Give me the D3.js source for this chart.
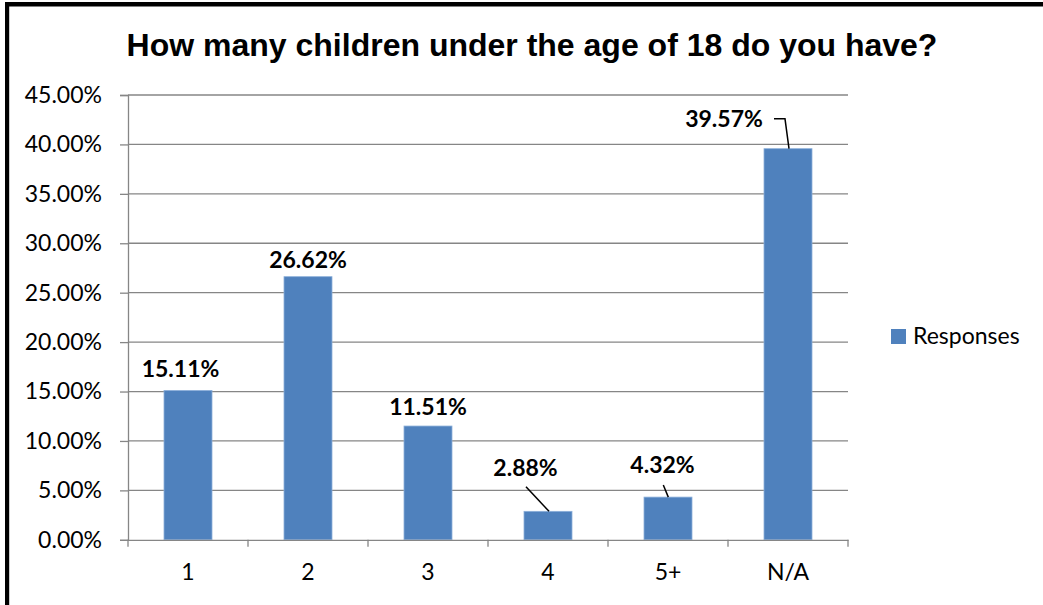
<!DOCTYPE html>
<html>
<head>
<meta charset="utf-8">
<script src="https://cdn.jsdelivr.net/npm/d3@7"></script>
<style>
  html, body { margin: 0; padding: 0; background: #fff; }
  svg { display: block; }
</style>
</head>
<body>
<svg id="chart" width="1043" height="605"></svg>
<script>
// ---- data ----
const categories = ["1", "2", "3", "4", "5+", "N/A"];
const responses = [0.1511, 0.2662, 0.1151, 0.0288, 0.0432, 0.3957];
const yTicks = [0, 0.05, 0.10, 0.15, 0.20, 0.25, 0.30, 0.35, 0.40, 0.45];
const seriesName = "Responses";
const title = "How many children under the age of 18 do you have?";

// ---- label placement (layout, relative to bar top / centre) ----
const labelDx = [-7.5, 0, 0, -22.5, -5.5, -64];
const labelDy = [-13.7, -8.3, -11, -35.6, -24.4, -21.8];

const W = 1043, H = 605;
const margin = { left: 128, right: 1043 - 848, top: 95, bottom: 605 - 539.8 };
const svg = d3.select("#chart");

const labelFont = "Lato, 'Open Sans', 'Liberation Sans', sans-serif";
const barColor = "#4F81BD";
const gridColor = "#868686";

// border (top & left visible)
svg.append("rect").attr("x", 0).attr("y", 0).attr("width", W).attr("height", H).attr("fill", "#fff");
svg.append("rect").attr("x", 5).attr("y", 2).attr("width", W).attr("height", 4.5).attr("fill", "#000");
svg.append("rect").attr("x", 5).attr("y", 2).attr("width", 4.2).attr("height", H).attr("fill", "#000");

// title
svg.append("text")
  .attr("x", 532).attr("y", 56)
  .attr("text-anchor", "middle")
  .style("font-family", "'Liberation Sans', Arial, sans-serif")
  .style("font-weight", "bold")
  .style("font-size", "32px")
  .text(title);

const x = d3.scaleBand().domain(categories).range([margin.left, W - margin.right]).padding(0);
const y = d3.scaleLinear().domain([0, 0.45]).range([H - margin.bottom, margin.top]);

// gridlines
svg.append("g").selectAll("line").data(yTicks.filter(d => d > 0)).join("line")
  .attr("x1", margin.left).attr("x2", W - margin.right)
  .attr("y1", d => y(d)).attr("y2", d => y(d))
  .attr("stroke", gridColor).attr("stroke-width", 1.3);

// y axis
const yAxis = d3.axisLeft(y).tickValues(yTicks).tickSize(8).tickPadding(18)
  .tickFormat(d => (d * 100).toFixed(2) + "%");
const gy = svg.append("g").attr("transform", `translate(${margin.left},0)`).call(yAxis);
gy.select(".domain").attr("stroke", gridColor).attr("stroke-width", 1.3);
gy.selectAll(".tick line").attr("stroke", gridColor).attr("stroke-width", 1.3);
gy.selectAll(".tick text")
  .style("font-family", labelFont).style("font-size", "23px").attr("fill", "#000");

// bars
const barW = x.bandwidth() * 0.4;
svg.append("g").selectAll("rect").data(responses).join("rect")
  .attr("x", (d, i) => x(categories[i]) + x.bandwidth() / 2 - barW / 2)
  .attr("width", barW)
  .attr("y", d => y(d))
  .attr("height", d => y(0) - y(d))
  .attr("fill", barColor)
  .attr("stroke", "#8DB0DA").attr("stroke-width", 0.8);

// x axis
const xAxis = d3.axisBottom(x).tickSize(0).tickPadding(24);
const gx = svg.append("g").attr("transform", `translate(0,${y(0)})`).call(xAxis);
gx.select(".domain").attr("stroke", gridColor).attr("stroke-width", 1.3);
gx.selectAll(".tick text")
  .style("font-family", labelFont).style("font-size", "23px").attr("fill", "#000");
// category boundary tick marks
const bounds = categories.map(c => x(c)).concat([x(categories[categories.length - 1]) + x.bandwidth()]);
gx.append("g").selectAll("line").data(bounds).join("line")
  .attr("x1", d => d).attr("x2", d => d).attr("y1", 0).attr("y2", 7)
  .attr("stroke", gridColor).attr("stroke-width", 1.3);

// data labels
const cx = i => x(categories[i]) + x.bandwidth() / 2;
const labels = svg.append("g");
labels.selectAll("text").data(responses).join("text")
  .attr("x", (d, i) => cx(i) + labelDx[i])
  .attr("y", (d, i) => y(d) + labelDy[i])
  .attr("text-anchor", "middle")
  .style("font-family", labelFont).style("font-weight", "bold").style("font-size", "23px")
  .text(d => (d * 100).toFixed(2) + "%");

// leader lines for moved labels
const leader = (pts) => svg.append("path").attr("d", d3.line()(pts))
  .attr("fill", "none").attr("stroke", "#000").attr("stroke-width", 1.5);
{
  const i = 3, d = responses[i];
  leader([[cx(i) + labelDx[i] + 0.5, y(d) + labelDy[i] + 11], [cx(i) + 1, y(d)]]);
}
{
  const i = 4, d = responses[i];
  leader([[cx(i) + labelDx[i] + 0.8, y(d) + labelDy[i] + 12.3], [cx(i) + 0.3, y(d)]]);
}
{
  const i = 5, d = responses[i];
  const ly = y(d) + labelDy[i] - 8;
  leader([[cx(i) - 14, ly], [cx(i) - 3, ly], [cx(i) + 1, y(d)]]);
}

// legend
const lg = svg.append("g");
lg.append("rect").attr("x", 891).attr("y", 329).attr("width", 15).attr("height", 15).attr("fill", barColor);
lg.append("text").attr("x", 913).attr("y", 344)
  .style("font-family", labelFont).style("font-size", "23px").text(seriesName);
</script>
</body>
</html>
